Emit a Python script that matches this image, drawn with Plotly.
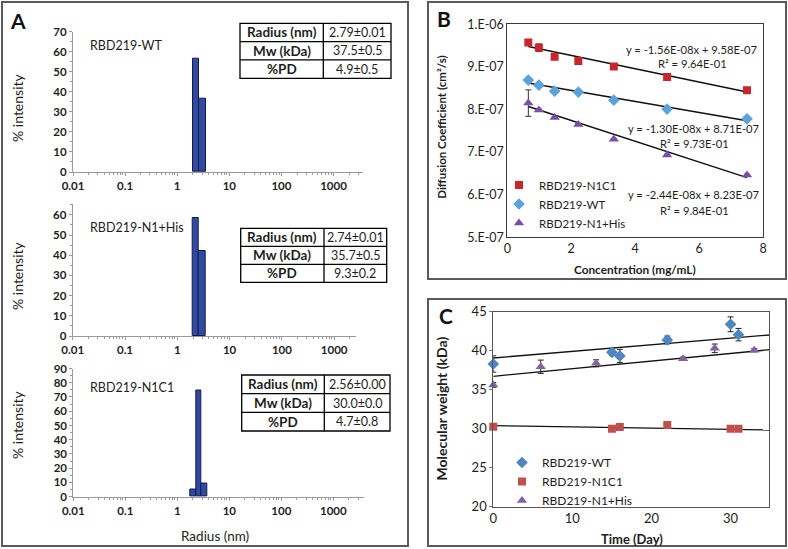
import numpy as np
import plotly.graph_objects as go

W, H = 788, 549
FONT = "Lato, 'Open Sans', sans-serif"


def fx(x):
    return x / W


def fy(y):
    return 1 - y / H


# ---------------- Panel A data (DLS histograms) ----------------
wt_edges = [2.04, 2.62, 3.52]          # bin edges, radius (nm)
wt_int = [56.4, 36.8]                  # % intensity
his_edges = [2.00, 2.60, 3.54]
his_int = [58.3, 42.1]
n1c1_edges = [1.76, 2.27, 2.86, 3.79]
n1c1_int = [5.2, 74.4, 9.6]

table_labels = ["Radius (nm)", "Mw (kDa)", "%PD"]
wt_table = ["2.79±0.01", "37.5±0.5", "4.9±0.5"]
his_table = ["2.74±0.01", "35.7±0.5", "9.3±0.2"]
n1c1_table = ["2.56±0.00", "30.0±0.0", "4.7±0.8"]
sample_names = ["RBD219-WT", "RBD219-N1+His", "RBD219-N1C1"]

radius_ticks = [0.01, 0.1, 1, 10, 100, 1000]
radius_tick_text = ["0.01", "0.1", "1", "10", "100", "1000"]

# ---------------- Panel B data (diffusion coefficient) ----------------
conc = [0.658, 0.988, 1.481, 2.222, 3.333, 5.0, 7.5]
d_n1c1 = [9.57e-7, 9.45e-7, 9.24e-7, 9.14e-7, 9.01e-7, 8.76e-7, 8.45e-7]
d_n1c1_err = [0.2e-8, 0.9e-8, 0.3e-8, 0.2e-8, 0.2e-8, 0.3e-8, 0.2e-8]
d_wt = [8.69e-7, 8.57e-7, 8.43e-7, 8.41e-7, 8.22e-7, 8.01e-7, 7.78e-7]
d_wt_err = [0.2e-8, 0.2e-8, 0.2e-8, 0.2e-8, 0.2e-8, 0.2e-8, 0.5e-8]
d_his = [8.15e-7, 7.99e-7, 7.81e-7, 7.65e-7, 7.30e-7, 6.93e-7, 6.46e-7]
d_his_err = [3.1e-8, 0.2e-8, 0.2e-8, 0.2e-8, 0.2e-8, 0.2e-8, 0.2e-8]
fit_b_n1c1 = (-1.56e-8, 9.58e-7)
fit_b_wt = (-1.30e-8, 8.71e-7)
fit_b_his = (-2.44e-8, 8.23e-7)
eq_b_n1c1 = ["y = -1.56E-08x + 9.58E-07", "R² = 9.64E-01"]
eq_b_wt = ["y = -1.30E-08x + 8.71E-07", "R² = 9.73E-01"]
eq_b_his = ["y = -2.44E-08x + 8.23E-07", "R² = 9.84E-01"]
d_tick_vals = [5e-7, 6e-7, 7e-7, 8e-7, 9e-7, 1e-6]
d_tick_text = ["5.E-07", "6.E-07", "7.E-07", "8.E-07", "9.E-07", "1.E-06"]

# ---------------- Panel C data (molecular weight over time) ----------------
day_wt = [0, 15, 16, 22, 30, 31]
mw_wt = [38.27, 39.77, 39.3, 41.35, 43.36, 42.03]
mw_wt_err = [1.05, 0.42, 0.85, 0.5, 0.95, 0.8]
day_n1c1 = [0, 15, 16, 22, 30, 31]
mw_n1c1 = [30.23, 29.97, 30.19, 30.45, 29.97, 29.97]
mw_n1c1_err = [0.25, 0.15, 0.25, 0.45, 0.1, 0.1]
day_his = [0, 6, 13, 24, 28, 33]
mw_his = [35.58, 37.92, 38.36, 38.95, 40.28, 40.03]
mw_his_err = [0.3, 0.85, 0.45, 0.2, 0.55, 0.2]
fit_c_wt = (0.0845, 39.04)
fit_c_n1c1 = (-0.0158, 30.36)
fit_c_his = (0.0977, 36.69)

# colours
BAR = "#2f4a9f"
B_RED, B_BLUE, B_PURPLE = "#c8262c", "#5ba3d9", "#7a4ea8"
C_RED, C_BLUE, C_PURPLE = "#c0504d", "#4f86c0", "#8064a2"
TXT = "#1e1e1e"

fig = go.Figure()
annotations = []
shapes = []


def note(x, y, text, size, angle=0, xanchor="center", color=TXT):
    annotations.append(dict(x=fx(x), y=fy(y), xref="paper", yref="paper", text=text,
                            showarrow=False, xanchor=xanchor, yanchor="middle",
                            textangle=angle, font=dict(family=FONT, size=size, color=color)))


# ---------------- Panel A ----------------
a_panels = [
    (wt_edges, wt_int, wt_table, sample_names[0], (73, 363), (172, 31.7), 70, 3.566,
     (240, 391, 323.3, 23.3, 78.3), 45.7, 108),
    (his_edges, his_int, his_table, sample_names[1], (72.7, 356), (336, 204), 65.4, 3.417,
     (240.7, 386.7, 324, 228.3, 282.3), 227.7, 276),
    (n1c1_edges, n1c1_int, n1c1_table, sample_names[2], (73.3, 364.3), (496.7, 368.5), 90, 3.596,
     (241.7, 390, 324.3, 375, 431), 387.7, 425),
]

minor_vals = [np.log10(m * 10.0 ** d) for d in range(-2, 4) for m in range(2, 10)]

for i, (edges, inten, tab, name, xd, yd, ymax, xmax, tb, ly, ty) in enumerate(a_panels, start=1):
    le = np.log10(edges)
    centers = (le[:-1] + le[1:]) / 2
    widths = le[1:] - le[:-1]
    fig.add_trace(go.Bar(
        x=centers, y=inten, width=widths, xaxis=f"x{i}", yaxis=f"y{i}",
        marker=dict(color=BAR, line=dict(color="#141a4a", width=1)),
        showlegend=False, hoverinfo="skip"))
    fig.layout[f"xaxis{i}"] = dict(
        domain=[fx(xd[0]), fx(xd[1])], anchor=f"y{i}", range=[-2, xmax], automargin=False,
        tickmode="array", tickvals=list(np.log10(radius_ticks)), ticktext=radius_tick_text,
        showline=True, linecolor="#9a9a9a", linewidth=1, ticks="outside", ticklen=3,
        tickcolor="#9a9a9a", showgrid=False, zeroline=False,
        tickfont=dict(family=FONT, size=11.5, color=TXT, weight="bold"),
        minor=dict(tickmode="array", tickvals=minor_vals, ticks="outside", ticklen=2,
                   tickcolor="#9a9a9a", showgrid=False))
    fig.layout[f"yaxis{i}"] = dict(
        domain=[fy(yd[0]), fy(yd[1])], anchor=f"x{i}", range=[0, ymax], dtick=10, automargin=False,
        showline=True, linecolor="#9a9a9a", linewidth=1, ticks="outside", ticklen=3,
        tickcolor="#9a9a9a", showgrid=False, zeroline=False,
        tickfont=dict(family=FONT, size=11.5, color=TXT, weight="bold"),
        minor=dict(dtick=5, ticks="outside", ticklen=2, tickcolor="#9a9a9a", showgrid=False))
    note(88, ly, name, 12.5, xanchor="left")
    note(17, ty, "% intensity", 14, angle=-90)
    x0, x1, xc, y0, y1 = tb
    rh = (y1 - y0) / 3
    shapes.append(dict(type="rect", xref="paper", yref="paper", x0=fx(x0), x1=fx(x1),
                       y0=fy(y0), y1=fy(y1), line=dict(color="#000", width=1.3)))
    shapes.append(dict(type="line", xref="paper", yref="paper", x0=fx(xc), x1=fx(xc),
                       y0=fy(y0), y1=fy(y1), line=dict(color="#000", width=1.3)))
    for r in (1, 2):
        shapes.append(dict(type="line", xref="paper", yref="paper", x0=fx(x0), x1=fx(x1),
                           y0=fy(y0 + r * rh), y1=fy(y0 + r * rh), line=dict(color="#000", width=1.3)))
    for r in range(3):
        yc = y0 + (r + 0.5) * rh
        note((x0 + xc) / 2, yc, f"<b>{table_labels[r]}</b>", 13.5)
        note((xc + x1) / 2, yc, tab[r], 12.5)

note(215, 536, "Radius (nm)", 13.5)
note(18, 20, "<b>A</b>", 21, color="#111")

# ---------------- Panel B ----------------
b_series = [
    ("RBD219-N1C1", d_n1c1, d_n1c1_err, fit_b_n1c1, B_RED, "square", 8),
    ("RBD219-WT", d_wt, d_wt_err, fit_b_wt, B_BLUE, "diamond", 9),
    ("RBD219-N1+His", d_his, d_his_err, fit_b_his, B_PURPLE, "triangle-up", 9),
]
for k, (name, yv, err, fit, col, sym, ms) in enumerate(b_series):
    xs = np.array([conc[0], conc[-1]])
    fig.add_trace(go.Scatter(x=xs, y=fit[0] * xs + fit[1], mode="lines", xaxis="x4", yaxis="y4",
                             line=dict(color="#111", width=1.5), showlegend=False, hoverinfo="skip"))
for k, (name, yv, err, fit, col, sym, ms) in enumerate(b_series):
    fig.add_trace(go.Scatter(x=conc, y=yv, mode="markers", name=name, xaxis="x4", yaxis="y4",
                             marker=dict(color=col, symbol=sym, size=ms),
                             error_y=dict(type="data", array=err, color="#333", thickness=1, width=3),
                             legend="legend", legendgroup=f"b{k}"))

fig.layout["xaxis4"] = dict(domain=[fx(507.3), fx(763)], anchor="y4", range=[0, 8], dtick=2,
                            automargin=False,
                            showline=True, mirror=True, linecolor="#3a3a3a", linewidth=1,
                            showgrid=False, zeroline=False, ticks="",
                            tickfont=dict(family=FONT, size=12.5, color=TXT))
fig.layout["yaxis4"] = dict(domain=[fy(237.3), fy(24.3)], anchor="x4", range=[5e-7, 1e-6],
                            automargin=False,
                            tickmode="array", tickvals=d_tick_vals, ticktext=d_tick_text,
                            showline=True, mirror=True, linecolor="#3a3a3a", linewidth=1,
                            showgrid=False, zeroline=False, ticks="",
                            tickfont=dict(family=FONT, size=12.5, color=TXT))
for eq, (xc, y1, y2) in zip([eq_b_n1c1, eq_b_wt, eq_b_his],
                            [(692, 49.3, 63.7), (694, 128.3, 143.3), (694, 194, 210)]):
    note(xc, y1, eq[0], 11.2)
    note(xc, y2, eq[1], 11.2)
note(635, 269.3, "<b>Concentration (mg/mL)</b>", 11.8)
note(441.7, 127, "<b>Diffusion Coefficient (cm²/s)</b>", 11.5, angle=-90)
note(444, 18.3, "<b>B</b>", 21, color="#111")

# ---------------- Panel C ----------------
c_series = [
    ("RBD219-WT", day_wt, mw_wt, mw_wt_err, fit_c_wt, C_BLUE, "diamond", 9),
    ("RBD219-N1C1", day_n1c1, mw_n1c1, mw_n1c1_err, fit_c_n1c1, C_RED, "square", 8),
    ("RBD219-N1+His", day_his, mw_his, mw_his_err, fit_c_his, C_PURPLE, "triangle-up", 9),
]
C_XMAX = 34.9
for k, (name, xv, yv, err, fit, col, sym, ms) in enumerate(c_series):
    xs = np.array([0, C_XMAX])
    fig.add_trace(go.Scatter(x=xs, y=fit[0] * xs + fit[1], mode="lines", xaxis="x5", yaxis="y5",
                             line=dict(color="#111", width=1.3), showlegend=False, hoverinfo="skip"))
for k, (name, xv, yv, err, fit, col, sym, ms) in enumerate(c_series):
    fig.add_trace(go.Scatter(x=xv, y=yv, mode="markers", name=name, xaxis="x5", yaxis="y5",
                             marker=dict(color=col, symbol=sym, size=ms),
                             error_y=dict(type="data", array=err, color="#222", thickness=1, width=3),
                             legend="legend2", legendgroup=f"c{k}", cliponaxis=False))

fig.layout["xaxis5"] = dict(domain=[fx(493.3), fx(769.3)], anchor="y5", range=[0, C_XMAX], dtick=10,
                            automargin=False,
                            showline=True, mirror=True, linecolor="#555", linewidth=1,
                            showgrid=False, zeroline=False, ticks="",
                            tickfont=dict(family=FONT, size=13, color=TXT))
fig.layout["yaxis5"] = dict(domain=[fy(506.5), fy(311.5)], anchor="x5", range=[20, 45], dtick=5,
                            automargin=False,
                            showline=True, mirror=True, linecolor="#555", linewidth=1,
                            showgrid=False, zeroline=False, ticks="outside", ticklen=3,
                            tickcolor="#777",
                            tickfont=dict(family=FONT, size=13, color=TXT))
note(631.7, 538.5, "<b>Time (Day)</b>", 13)
note(441, 408.5, "<b>Molecular weight (kDa)</b>", 14, angle=-90)
note(446, 315.7, "<b>C</b>", 21, color="#111")

# ---------------- panel frames ----------------
for (x0, y0, x1, y1) in [(2, 2, 408, 546), (428, 2, 786, 279), (428, 299, 786, 546)]:
    shapes.append(dict(type="rect", xref="paper", yref="paper", x0=fx(x0), x1=fx(x1),
                       y0=fy(y0), y1=fy(y1), line=dict(color="#5a5a5a", width=2)))

fig.update_layout(
    width=W, height=H, autosize=False,
    margin=dict(l=0, r=0, t=0, b=0, pad=0, autoexpand=False),
    paper_bgcolor="white", plot_bgcolor="white",
    font=dict(family=FONT, color=TXT),
    bargap=0,
    annotations=annotations, shapes=shapes,
    legend=dict(x=fx(499), y=fy(170.5), xanchor="left", yanchor="top",
                bgcolor="rgba(0,0,0,0)", font=dict(family=FONT, size=11.5, color=TXT),
                tracegroupgap=0, itemsizing="trace", itemwidth=30),
    legend2=dict(x=fx(502), y=fy(448), xanchor="left", yanchor="top",
                 bgcolor="rgba(0,0,0,0)", font=dict(family=FONT, size=12, color=TXT),
                 tracegroupgap=0, itemsizing="trace", itemwidth=30),
)

fig.write_html("out.html", config={"displayModeBar": False},
               post_script="document.body.style.margin='0';document.body.style.overflow='hidden';")
